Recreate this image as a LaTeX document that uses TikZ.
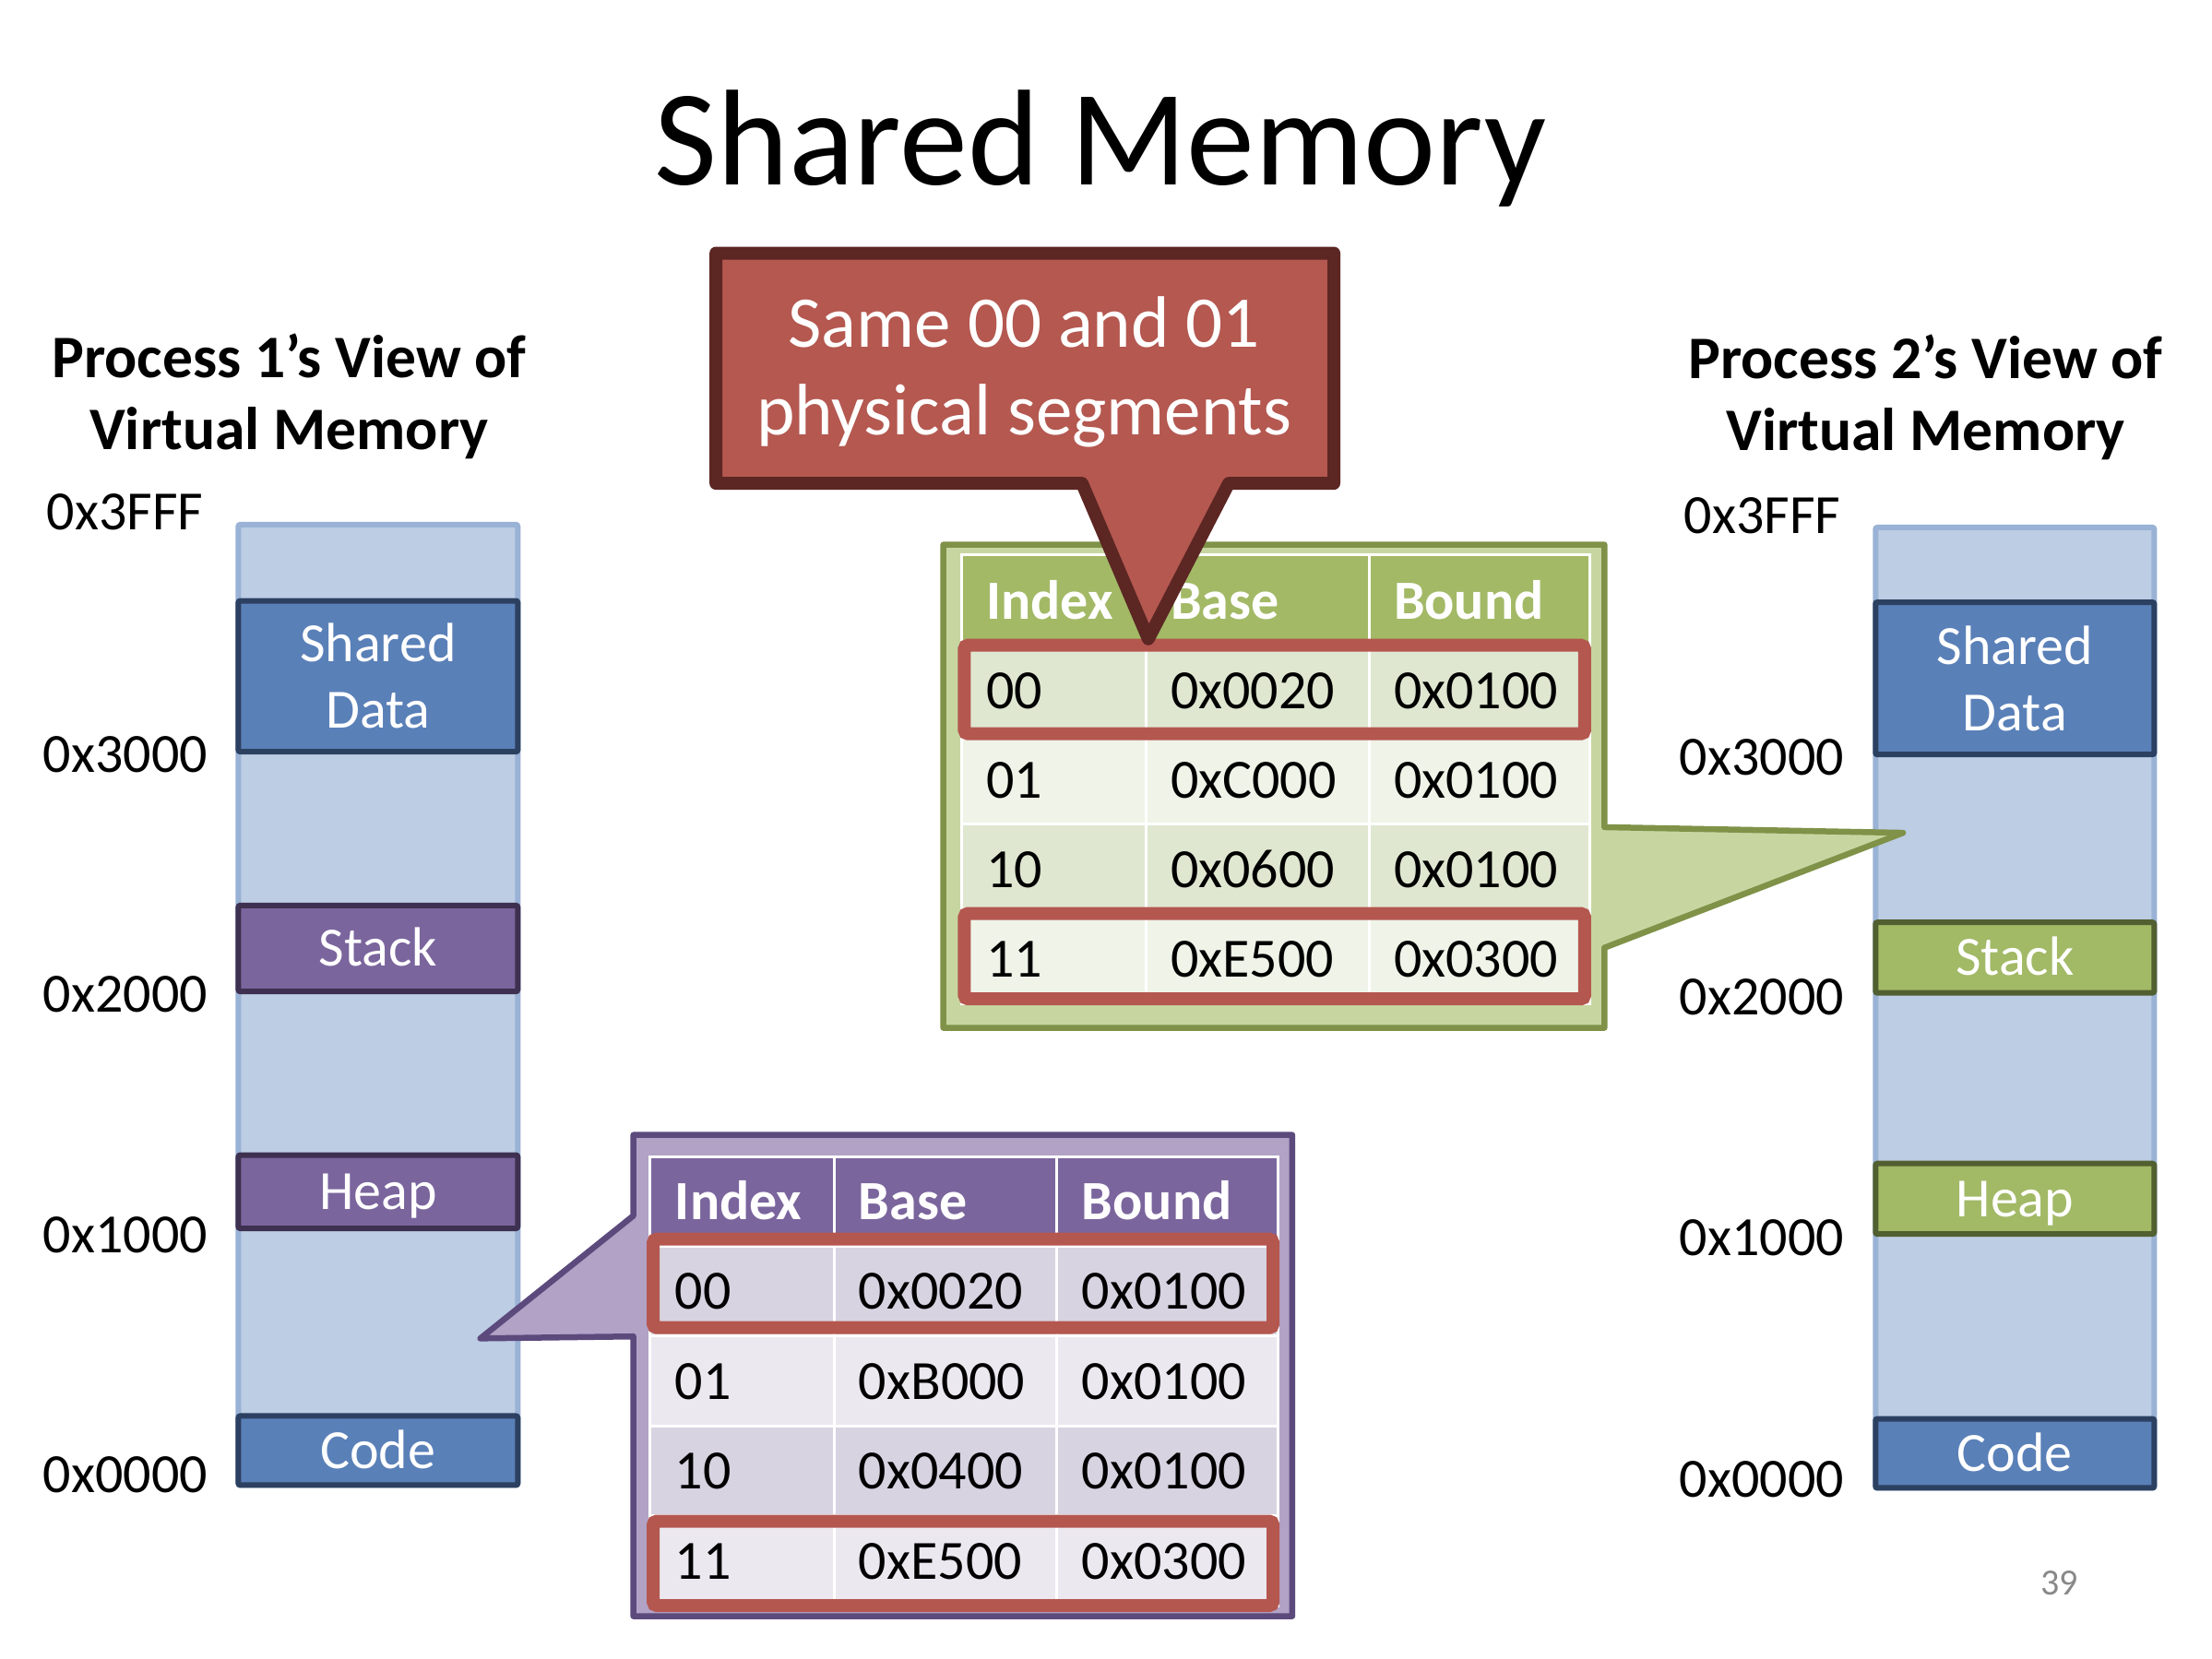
\documentclass[tikz,border=0pt]{standalone}
\usepackage{fontspec}
\setmainfont{Carlito}

% memory-map colours
\definecolor{barFill}{RGB}{188,205,228}
\definecolor{barEdge}{RGB}{153,178,213}
\definecolor{blueFill}{RGB}{90,128,184}
\definecolor{blueEdge}{RGB}{44,65,97}
\definecolor{purpFill}{RGB}{123,101,157}
\definecolor{purpEdge}{RGB}{62,48,80}
\definecolor{grnFill}{RGB}{162,185,102}
\definecolor{grnEdge}{RGB}{82,95,48}
% segment-table colours
\definecolor{gTabOuter}{RGB}{199,214,161}
\definecolor{gTabEdge}{RGB}{127,146,72}
\definecolor{gHead}{RGB}{163,185,102}
\definecolor{gBandA}{RGB}{223,231,209}
\definecolor{gBandB}{RGB}{239,243,232}
\definecolor{pTabOuter}{RGB}{178,162,198}
\definecolor{pTabEdge}{RGB}{92,74,125}
\definecolor{pHead}{RGB}{123,101,157}
\definecolor{pBandA}{RGB}{215,211,225}
\definecolor{pBandB}{RGB}{235,232,240}
\definecolor{calloutFill}{RGB}{180,88,80}
\definecolor{calloutEdge}{RGB}{92,38,35}
\definecolor{hlRed}{RGB}{180,87,79}
\definecolor{pageGray}{RGB}{137,137,137}

\begin{document}
\begin{tikzpicture}[x=1.5293pt,y=-1.5293pt,
  membar/.style={draw=barEdge,fill=barFill,line width=6pt,rounded corners=2pt},
  segblue/.style={draw=blueEdge,fill=blueFill,line width=6pt,rounded corners=2pt},
  segpurple/.style={draw=purpEdge,fill=purpFill,line width=6pt,rounded corners=2pt},
  seggreen/.style={draw=grnEdge,fill=grnFill,line width=6pt,rounded corners=2pt},
  seglabel/.style={text=white,font=\fontsize{60}{72}\selectfont,inner sep=0pt,align=center},
  addr/.style={font=\fontsize{60}{72}\selectfont,anchor=base west,inner sep=0pt},
  heading/.style={font=\bfseries\fontsize{65.5}{79}\selectfont,anchor=base,inner sep=0pt},
  cell/.style={font=\fontsize{60}{72}\selectfont,anchor=base west,inner sep=0pt},
  hdrcell/.style={cell,font=\bfseries\fontsize{60}{72}\selectfont,text=white},
  hilite/.style={draw=hlRed,line width=14pt,rounded corners=4pt},
  gridline/.style={draw=white,line width=3pt},
  calloutbox/.style={line width=6.5pt,line join=round},
]
% page
\path[fill=white] (0,0) rectangle (1568,1176);

% title
\node[font=\fontsize{148}{178}\selectfont,anchor=base,inner sep=0pt] (title) at (780,131) {Shared Memory};

% ---------------- process 1 ----------------
\node[heading] (p1headA) at (205,267.5) {Process 1’s View of};
\node[heading] (p1headB) at (205,318.5) {Virtual Memory};

\draw[membar] (169,372) rectangle (367,1053);
\draw[segblue]   (169,426) rectangle (367,533);
\draw[segpurple] (169,642) rectangle (367,703);
\draw[segpurple] (169,819) rectangle (367,871);
\draw[segblue]   (169,1004) rectangle (367,1053);
\node[seglabel] (p1shared) at (268,479.5) {Shared\\Data};
\node[seglabel,anchor=base] (p1stack) at (268,685.2) {Stack};
\node[seglabel,anchor=base] (p1heap) at (268,857.7) {Heap};
\node[seglabel,anchor=base] (p1code) at (268,1041.2) {Code};

\node[addr] (p1a3fff) at (33,375.5) {0x3FFF};
\node[addr] (p1a3000) at (30.5,547.5) {0x3000};
\node[addr] (p1a2000) at (30.5,717.5) {0x2000};
\node[addr] (p1a1000) at (30.5,888.5) {0x1000};
\node[addr] (p1a0000) at (30.5,1058.5) {0x0000};

% ---------------- process 2 ----------------
\node[heading] (p2headA) at (1365,268.5) {Process 2’s View of};
\node[heading] (p2headB) at (1365,319.5) {Virtual Memory};

\draw[membar] (1329.5,374) rectangle (1527,1055);
\draw[segblue]  (1329.5,427) rectangle (1527,535);
\draw[seggreen] (1329.5,654) rectangle (1527,704);
\draw[seggreen] (1329.5,825) rectangle (1527,875);
\draw[segblue]  (1329.5,1006) rectangle (1527,1055);
\node[seglabel] (p2shared) at (1428.3,481) {Shared\\Data};
\node[seglabel,anchor=base] (p2stack) at (1428.3,691.7) {Stack};
\node[seglabel,anchor=base] (p2heap) at (1428.3,862.7) {Heap};
\node[seglabel,anchor=base] (p2code) at (1428.3,1043.2) {Code};

\node[addr] (p2a3fff) at (1193.8,378.5) {0x3FFF};
\node[addr] (p2a3000) at (1190.5,549.5) {0x3000};
\node[addr] (p2a2000) at (1190.5,719.5) {0x2000};
\node[addr] (p2a1000) at (1190.5,890.5) {0x1000};
\node[addr] (p2a0000) at (1190.5,1061.5) {0x0000};

% ---------------- process 2 segment table (green callout) ----------------
\draw[calloutbox,draw=gTabEdge,fill=gTabOuter]
  (668.7,386.2) -- (1137.3,386.2) -- (1137.3,586.5) -- (1349,590.5)
  -- (1137.3,672) -- (1137.3,728.8) -- (668.7,728.8) -- cycle;
\fill[gHead] (681.6,393.5) rectangle (1126.8,457.5);
\foreach \ya/\yb [count=\r] in {457.5/521,521/584.5,584.5/648,648/711.5}{
  \ifodd\r \fill[gBandA] (681.6,\ya) rectangle (1126.8,\yb);
  \else \fill[gBandB] (681.6,\ya) rectangle (1126.8,\yb); \fi
}
\draw[gridline] (681.6,393.5) rectangle (1126.8,711.5);
\foreach \y in {457.5,521,584.5,648} \draw[gridline] (681.6,\y) -- (1126.8,\y);
\foreach \x in {812.2,970.4} \draw[gridline] (\x,393.5) -- (\x,711.5);
\node[hdrcell] (gHIdx) at (699.1,438.8) {Index};
\node[hdrcell] (gHBase) at (829.7,438.8) {Base};
\node[hdrcell] (gHBound) at (987.9,438.8) {Bound};
\foreach \idx/\base/\bnd [count=\r] in {00/0x0020/0x0100,01/0xC000/0x0100,10/0x0600/0x0100,11/0xE500/0x0300}{
  \pgfmathsetmacro\yb{457.5+(\r-0.5)*63.5+13}
  \node[cell] (gI\r) at (699.1,\yb) {\idx};
  \node[cell] (gB\r) at (829.7,\yb) {\base};
  \node[cell] (gL\r) at (987.9,\yb) {\bnd};
}
\draw[hilite] (683.6,457.5) rectangle (1123.3,520.3);
\draw[hilite] (683.6,647.7) rectangle (1123.3,708.3);

% ---------------- process 1 segment table (purple callout) ----------------
\draw[calloutbox,draw=pTabEdge,fill=pTabOuter]
  (449,804.7) -- (916,804.7) -- (916,1146) -- (449,1146) -- (449,947.6)
  -- (340.5,949) -- (449,862) -- cycle;
\fill[pHead] (460.5,820.5) rectangle (905.7,883.5);
\foreach \ya/\yb [count=\r] in {883.5/947.3,947.3/1011.1,1011.1/1074.9,1074.9/1138.7}{
  \ifodd\r \fill[pBandA] (460.5,\ya) rectangle (905.7,\yb);
  \else \fill[pBandB] (460.5,\ya) rectangle (905.7,\yb); \fi
}
\draw[gridline] (460.5,820.5) rectangle (905.7,1138.7);
\foreach \y in {883.5,947.3,1011.1,1074.9} \draw[gridline] (460.5,\y) -- (905.7,\y);
\foreach \x in {591.1,749.3} \draw[gridline] (\x,820.5) -- (\x,1138.7);
\node[hdrcell] (pHIdx) at (478.5,865) {Index};
\node[hdrcell] (pHBase) at (608.6,865) {Base};
\node[hdrcell] (pHBound) at (766.8,865) {Bound};
\foreach \idx/\base/\bnd [count=\r] in {00/0x0020/0x0100,01/0xB000/0x0100,10/0x0400/0x0100,11/0xE500/0x0300}{
  \pgfmathsetmacro\yb{883.5+(\r-0.5)*63.8+13}
  \node[cell] (pI\r) at (478.5,\yb) {\idx};
  \node[cell] (pB\r) at (608.6,\yb) {\base};
  \node[cell] (pL\r) at (766.8,\yb) {\bnd};
}
\draw[hilite] (463,878.6) rectangle (902.4,941.4);
\draw[hilite] (463,1078.6) rectangle (902.4,1138.4);

% ---------------- red note callout ----------------
\draw[line width=14pt,line join=round,draw=calloutEdge,fill=calloutFill]
  (507.5,179.5) -- (945.5,179.5) -- (945.5,342.7) -- (871,342.7)
  -- (814,453) -- (767,342.7) -- (507.5,342.7) -- cycle;
\node[font=\fontsize{79}{95}\selectfont,text=white,anchor=base,inner sep=0pt] (noteA) at (726,246.5) {Same 00 and 01};
\node[font=\fontsize{79}{95}\selectfont,text=white,anchor=base,inner sep=0pt] (noteB) at (726,308.6) {physical segments};

% slide number
\node[font=\fontsize{40}{48}\selectfont,text=pageGray,anchor=base,inner sep=0pt] (pagenum) at (1460,1131) {39};
\end{tikzpicture}
\end{document}
